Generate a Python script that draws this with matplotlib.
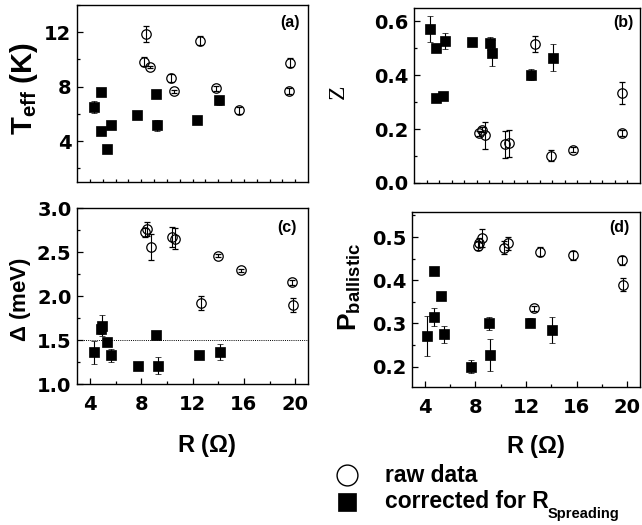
import matplotlib
matplotlib.use("Agg")
import matplotlib.pyplot as plt
from matplotlib.lines import Line2D
from matplotlib.ticker import MultipleLocator, FormatStrFormatter

plt.rcParams['font.family'] = ['Liberation Sans', 'DejaVu Sans']
plt.rcParams['font.weight'] = 'bold'
plt.rcParams['mathtext.fontset'] = 'custom'
plt.rcParams['mathtext.rm'] = 'Liberation Sans'
plt.rcParams['mathtext.bf'] = 'Liberation Sans:bold'
plt.rcParams['mathtext.it'] = 'Liberation Sans:italic'

# ---------------- data ----------------
# (a) T_eff (K)
a_raw_R = [8.37, 8.24, 8.68, 10.3, 10.58, 12.56, 13.85, 15.62, 19.6, 19.53]
a_raw_T = [11.85, 9.84, 9.45, 8.64, 7.66, 11.39, 7.88, 6.26, 9.77, 7.68]
a_raw_e = [0.6, 0.35, 0.1, 0.3, 0.1, 0.3, 0.2, 0.25, 0.35, 0.2]
a_cor_R = [4.33, 4.85, 4.85, 5.36, 5.62, 7.68, 9.14, 9.22, 12.35, 14.03]
a_cor_T = [6.5, 7.63, 4.71, 3.39, 5.2, 5.94, 7.44, 5.18, 5.52, 7.0]
a_cor_e = [0.45, 0.3, 0.15, 0.25, 0.25, 0.2, 0.25, 0.4, 0.25, 0.35]

# (b) Z
b_raw_R = [8.21, 8.39, 8.62, 10.21, 10.6, 12.62, 13.92, 15.64, 19.58, 19.58]
b_raw_Z = [0.185, 0.198, 0.177, 0.144, 0.147, 0.515, 0.102, 0.124, 0.335, 0.186]
b_raw_e = [0.01, 0.01, 0.05, 0.05, 0.05, 0.03, 0.02, 0.01, 0.04, 0.01]
b_cor_R = [4.29, 4.78, 5.5, 4.78, 5.3, 7.64, 9.09, 9.19, 12.34, 14.08]
b_cor_Z = [0.572, 0.502, 0.529, 0.317, 0.324, 0.524, 0.519, 0.483, 0.402, 0.465]
b_cor_e = [0.05, 0.01, 0.03, 0.01, 0.01, 0.01, 0.025, 0.047, 0.02, 0.05]

# (c) Delta (meV)
c_raw_R = [8.32, 8.45, 8.74, 10.4, 10.67, 14.0, 15.77, 12.67, 19.73, 19.8]
c_raw_D = [2.726, 2.76, 2.56, 2.67, 2.65, 2.46, 2.29, 1.92, 2.155, 1.90]
c_raw_e = [0.05, 0.08, 0.15, 0.11, 0.12, 0.02, 0.02, 0.08, 0.03, 0.08]
c_cor_R = [4.36, 4.94, 4.89, 5.35, 5.67, 7.78, 9.18, 9.31, 12.49, 14.16]
c_cor_D = [1.36, 1.66, 1.62, 1.48, 1.325, 1.21, 1.557, 1.21, 1.333, 1.367]
c_cor_e = [0.13, 0.12, 0.05, 0.03, 0.07, 0.02, 0.05, 0.1, 0.02, 0.09]
c_ref_line = 1.5

# (d) P_ballistic
d_raw_R = [8.24, 8.3, 8.56, 10.28, 10.59, 12.6, 13.11, 15.69, 19.55, 19.65]
d_raw_P = [0.48, 0.487, 0.498, 0.475, 0.486, 0.335, 0.466, 0.458, 0.446, 0.39]
d_raw_e = [0.01, 0.01, 0.02, 0.015, 0.015, 0.005, 0.01, 0.01, 0.01, 0.015]
d_cor_R = [4.18, 4.76, 4.76, 5.28, 5.54, 7.67, 9.08, 9.16, 12.33, 14.03]
d_cor_P = [0.271, 0.421, 0.315, 0.363, 0.275, 0.2, 0.3, 0.227, 0.302, 0.285]
d_cor_e = [0.047, 0.005, 0.02, 0.005, 0.02, 0.015, 0.015, 0.038, 0.01, 0.03]

x_ticks = [4, 8, 12, 16, 20]
legend_labels = ['raw data', 'corrected for R']
legend_sub = 'Spreading'

# ---------------- figure ----------------
W, H = 642, 525
fig = plt.figure(figsize=(W / 100, H / 100), dpi=100)

def px_axes(l, r, t, b):
    return fig.add_axes([l / W, 1 - b / H, (r - l) / W, (b - t) / H])

ax_a = px_axes(77, 308, 5, 182)
ax_b = px_axes(414, 640, 8, 183)
ax_c = px_axes(77, 308, 208, 384)
ax_d = px_axes(412, 640, 212, 387)

MS = 6.8

def draw(ax, rx, ry, re, cx, cy, ce):
    ax.errorbar(rx, ry, yerr=re, fmt='o', ms=MS, mfc='none', mec='black',
                mew=0.9, ecolor='black', elinewidth=0.8, capsize=2, capthick=0.8, zorder=3)
    ax.errorbar(cx, cy, yerr=ce, fmt='s', ms=MS, mfc='black', mec='black',
                mew=0.5, ecolor='black', elinewidth=0.8, capsize=2, capthick=0.8, zorder=3)

draw(ax_a, a_raw_R, a_raw_T, a_raw_e, a_cor_R, a_cor_T, a_cor_e)
draw(ax_b, b_raw_R, b_raw_Z, b_raw_e, b_cor_R, b_cor_Z, b_cor_e)
draw(ax_c, c_raw_R, c_raw_D, c_raw_e, c_cor_R, c_cor_D, c_cor_e)
draw(ax_d, d_raw_R, d_raw_P, d_raw_e, d_cor_R, d_cor_P, d_cor_e)
ax_c.axhline(c_ref_line, color='black', lw=0.7, ls=(0, (1, 1.2)), zorder=1)

for ax in (ax_a, ax_b, ax_c, ax_d):
    ax.set_xlim(3, 21)
    for s in ax.spines.values():
        s.set_linewidth(1.0)
    ax.tick_params(which='both', direction='in', top=False, right=False,
                   width=0.9, labelsize=14, colors='black')
    ax.tick_params(which='major', length=4)
    ax.tick_params(which='minor', length=2.5)
    ax.tick_params(axis='y', pad=4)
    ax.tick_params(axis='x', pad=8)

for ax in (ax_a, ax_b):
    ax.set_xticks(range(4, 21))
    ax.tick_params(axis='x', which='major', length=2.5, labelbottom=False)
for ax in (ax_c, ax_d):
    ax.set_xticks(x_ticks)
    ax.xaxis.set_minor_locator(MultipleLocator(2))

ax_a.set_ylim(1, 14)
ax_a.set_yticks([4, 8, 12])
ax_a.yaxis.set_minor_locator(MultipleLocator(2))
ax_b.set_ylim(0, 0.65)
ax_b.set_yticks([0.0, 0.2, 0.4, 0.6])
ax_b.yaxis.set_minor_locator(MultipleLocator(0.1))
ax_c.set_ylim(1.0, 3.0)
ax_c.set_yticks([1.0, 1.5, 2.0, 2.5, 3.0])
ax_c.yaxis.set_minor_locator(MultipleLocator(0.25))
ax_d.set_ylim(0.153, 0.558)
ax_d.set_yticks([0.2, 0.3, 0.4, 0.5])
ax_d.yaxis.set_minor_locator(MultipleLocator(0.05))

for ax in (ax_b, ax_c, ax_d):
    ax.yaxis.set_major_formatter(FormatStrFormatter('%.1f'))

for lab in (ax_a.get_yticklabels() + ax_b.get_yticklabels() + ax_c.get_yticklabels()
            + ax_d.get_yticklabels() + ax_c.get_xticklabels() + ax_d.get_xticklabels()):
    lab.set_fontweight('bold')
    lab.set_family('DejaVu Sans')

# axis labels
ax_a.set_ylabel(r'T$_{\mathbf{eff}}$ (K)', fontsize=21, fontweight='bold')
ax_a.yaxis.set_label_coords(-0.16, 0.53)
ax_b.set_ylabel('Z', fontsize=17, fontweight='normal', family='Liberation Serif')
ax_b.yaxis.set_label_coords(-0.29, 0.52)
ax_c.set_ylabel(r'$\Delta$ (meV)', fontsize=16, fontweight='bold')
ax_c.yaxis.set_label_coords(-0.19, 0.48)
ax_d.set_ylabel(r'P$_{\mathbf{ballistic}}$', fontsize=19, fontweight='bold')
ax_d.yaxis.set_label_coords(-0.215, 0.57)
for ax, xc, yc in ((ax_c, 0.563, -0.27), (ax_d, 0.54, -0.265)):
    ax.set_xlabel(r'R ($\Omega$)', fontsize=17, fontweight='bold')
    ax.xaxis.set_label_coords(xc, yc)

# panel letters
for ax, txt, xp, yp in ((ax_a, '(a)', 0.965, 0.90), (ax_b, '(b)', 0.97, 0.92),
                        (ax_c, '(c)', 0.952, 0.89), (ax_d, '(d)', 0.956, 0.914)):
    ax.text(xp, yp, txt, transform=ax.transAxes, ha='right', va='center',
            fontsize=11.5, fontweight='bold')

# legend drawn in figure coordinates
mx = 347 / W
texts = []
for i, (lab, mk) in enumerate(zip(legend_labels, ['o', 's'])):
    yy = 1 - (475 + 27 * i) / H
    if mk == 'o':
        fig.add_artist(Line2D([mx], [yy], transform=fig.transFigure, marker='o', ms=15,
                              mfc='white', mec='black', mew=1.0, ls='none'))
    else:
        fig.add_artist(Line2D([mx], [yy], transform=fig.transFigure, marker='s', ms=12.5,
                              mfc='black', mec='black', mew=0.5, ls='none'))
    texts.append(fig.text(385 / W, yy, lab, ha='left', va='center', fontsize=16.5,
                          fontweight='bold'))

fig.canvas.draw()
bb = texts[1].get_window_extent()
fig.text((bb.x1 - 1) / W, 1 - 514 / H, legend_sub, ha='left', va='center',
         fontsize=10.5, fontweight='bold')

fig.savefig('out.png', dpi=100)
